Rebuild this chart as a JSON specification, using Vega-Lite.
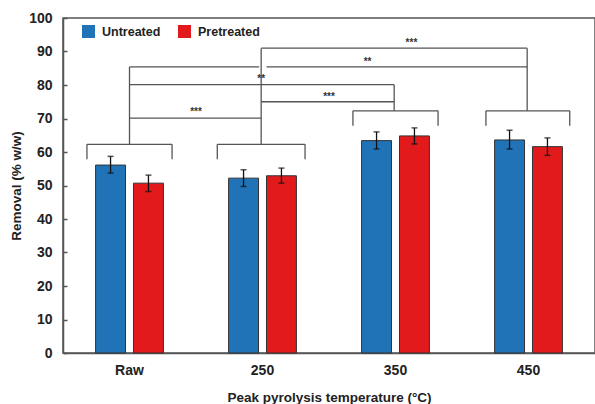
{
  "$schema": "https://vega.github.io/schema/vega-lite/v6.json",
  "width": 532,
  "height": 335,
  "autosize": {"type": "none"},
  "padding": {"left": 63, "top": 18, "right": 0, "bottom": 51},
  "config": {
    "font": "Liberation Sans",
    "view": {"stroke": "#555", "strokeWidth": 1.5},
    "axis": {"labelFont": "Liberation Sans", "titleFont": "Liberation Sans", "labelFontWeight": "bold", "titleFontWeight": "bold", "labelColor": "#222", "titleColor": "#222", "domainColor": "#555", "domainWidth": 1.5, "grid": false},
    "axisY": {"labelOverlap": false, "tickSize": -4, "tickColor": "#555", "tickWidth": 1.5, "labelPadding": 15, "labelFontSize": 14, "titleFontSize": 13.5, "titlePadding": 5}
  },
  "resolve": {"scale": {"x": "independent"}, "axis": {"y": "independent"}},
  "layer": [
    {
      "data": {"values": [
        {"temp": "Raw", "treatment": "Untreated", "removal": 56.1, "lo": 53.7, "hi": 58.7},
        {"temp": "Raw", "treatment": "Pretreated", "removal": 50.7, "lo": 48.2, "hi": 53.1},
        {"temp": "250", "treatment": "Untreated", "removal": 52.2, "lo": 49.7, "hi": 54.7},
        {"temp": "250", "treatment": "Pretreated", "removal": 52.9, "lo": 50.7, "hi": 55.2},
        {"temp": "350", "treatment": "Untreated", "removal": 63.4, "lo": 60.9, "hi": 66.0},
        {"temp": "350", "treatment": "Pretreated", "removal": 64.8, "lo": 62.4, "hi": 67.2},
        {"temp": "450", "treatment": "Untreated", "removal": 63.6, "lo": 60.9, "hi": 66.5},
        {"temp": "450", "treatment": "Pretreated", "removal": 61.6, "lo": 59.0, "hi": 64.2}
      ]},
      "encoding": {
        "x": {"field": "temp", "type": "nominal", "sort": ["Raw", "250", "350", "450"],
              "scale": {"paddingInner": 0.49, "paddingOuter": 0.245},
              "axis": {"title": "Peak pyrolysis temperature (°C)", "labelAngle": 0, "ticks": false, "labelPadding": 10, "labelFontSize": 14, "titleFontSize": 13.5, "titlePadding": 13}},
        "xOffset": {"field": "treatment", "type": "nominal", "sort": ["Untreated", "Pretreated"],
                    "scale": {"paddingInner": 0.21, "paddingOuter": 0}}
      },
      "layer": [
        {
          "mark": {"type": "bar", "stroke": "#333", "strokeWidth": 1},
          "encoding": {
            "y": {"field": "removal", "type": "quantitative",
                  "scale": {"domain": [0, 100], "nice": false},
                  "axis": {"title": "Removal (% w/w)", "values": [0, 10, 20, 30, 40, 50, 60, 70, 80, 90, 100]}},
            "color": {"field": "treatment", "type": "nominal",
                      "scale": {"domain": ["Untreated", "Pretreated"], "range": ["#1f73b6", "#e31a1c"]},
                      "legend": {"title": null, "orient": "none", "legendX": 19, "legendY": 7, "direction": "horizontal",
                                 "symbolType": "square", "symbolSize": 169, "symbolStrokeWidth": 0, "symbolOpacity": 1,
                                 "labelFontSize": 12.5, "labelFontWeight": "bold", "labelColor": "#222", "labelOffset": 7, "columnPadding": 17}}
          }
        },
        {
          "mark": {"type": "rule", "color": "#111", "strokeWidth": 1.3},
          "encoding": {"y": {"field": "lo", "type": "quantitative", "axis": {"title": "Removal (% w/w)", "values": [0, 10, 20, 30, 40, 50, 60, 70, 80, 90, 100]}}, "y2": {"field": "hi"}}
        },
        {
          "mark": {"type": "tick", "color": "#111", "size": 6, "thickness": 1.5},
          "encoding": {"y": {"field": "lo", "type": "quantitative", "axis": {"title": "Removal (% w/w)", "values": [0, 10, 20, 30, 40, 50, 60, 70, 80, 90, 100]}}}
        },
        {
          "mark": {"type": "tick", "color": "#111", "size": 6, "thickness": 1.5},
          "encoding": {"y": {"field": "hi", "type": "quantitative", "axis": {"title": "Removal (% w/w)", "values": [0, 10, 20, 30, 40, 50, 60, 70, 80, 90, 100]}}}
        }
      ]
    },
    {
      "layer": [
        {
          "data": {"values": [
            {"xa": -0.32, "xb": 0.32, "ya": 62.3, "yb": 62.3},
            {"xa": -0.32, "xb": -0.32, "ya": 62.3, "yb": 57.8},
            {"xa": 0.32, "xb": 0.32, "ya": 62.3, "yb": 57.8},
            {"xa": 0.66, "xb": 1.32, "ya": 62.3, "yb": 62.3},
            {"xa": 0.66, "xb": 0.66, "ya": 62.3, "yb": 57.8},
            {"xa": 1.32, "xb": 1.32, "ya": 62.3, "yb": 57.8},
            {"xa": 1.68, "xb": 2.32, "ya": 72.3, "yb": 72.3},
            {"xa": 1.68, "xb": 1.68, "ya": 72.3, "yb": 67.8},
            {"xa": 2.32, "xb": 2.32, "ya": 72.3, "yb": 67.8},
            {"xa": 2.68, "xb": 3.31, "ya": 72.3, "yb": 72.3},
            {"xa": 2.68, "xb": 2.68, "ya": 72.3, "yb": 67.8},
            {"xa": 3.31, "xb": 3.31, "ya": 72.3, "yb": 67.8},
            {"xa": 0, "xb": 0, "ya": 62.3, "yb": 85.4},
            {"xa": 0.99, "xb": 0.99, "ya": 62.3, "yb": 91.0},
            {"xa": 1.99, "xb": 1.99, "ya": 72.3, "yb": 80.1},
            {"xa": 2.99, "xb": 2.99, "ya": 72.3, "yb": 91.0},
            {"xa": 0.99, "xb": 2.99, "ya": 91.0, "yb": 91.0},
            {"xa": 0, "xb": 0.975, "ya": 85.4, "yb": 85.4},
            {"xa": 1.03, "xb": 2.99, "ya": 85.4, "yb": 85.4},
            {"xa": 0, "xb": 1.99, "ya": 80.1, "yb": 80.1},
            {"xa": 0.99, "xb": 1.99, "ya": 75.0, "yb": 75.0},
            {"xa": 0, "xb": 0.99, "ya": 70.1, "yb": 70.1}
          ]},
          "mark": {"type": "rule", "color": "#555", "strokeWidth": 1.3},
          "encoding": {
            "x": {"field": "xa", "type": "quantitative", "scale": {"domain": [-0.5, 3.5], "nice": false, "zero": false}, "axis": null},
            "x2": {"field": "xb"},
            "y": {"field": "ya", "type": "quantitative", "axis": null},
            "y2": {"field": "yb"}
          }
        },
        {
          "data": {"values": [
            {"xp": 2.12, "yp": 92.6, "label": "***"},
            {"xp": 1.79, "yp": 87.0, "label": "**"},
            {"xp": 0.99, "yp": 81.7, "label": "**"},
            {"xp": 1.5, "yp": 76.4, "label": "***"},
            {"xp": 0.5, "yp": 72.0, "label": "***"}
          ]},
          "mark": {"type": "text", "fontSize": 10, "fontWeight": "bold", "color": "#333", "baseline": "middle"},
          "encoding": {
            "x": {"field": "xp", "type": "quantitative", "scale": {"domain": [-0.5, 3.5], "nice": false, "zero": false}, "axis": null},
            "y": {"field": "yp", "type": "quantitative", "axis": null},
            "text": {"field": "label"}
          }
        }
      ]
    }
  ]
}
